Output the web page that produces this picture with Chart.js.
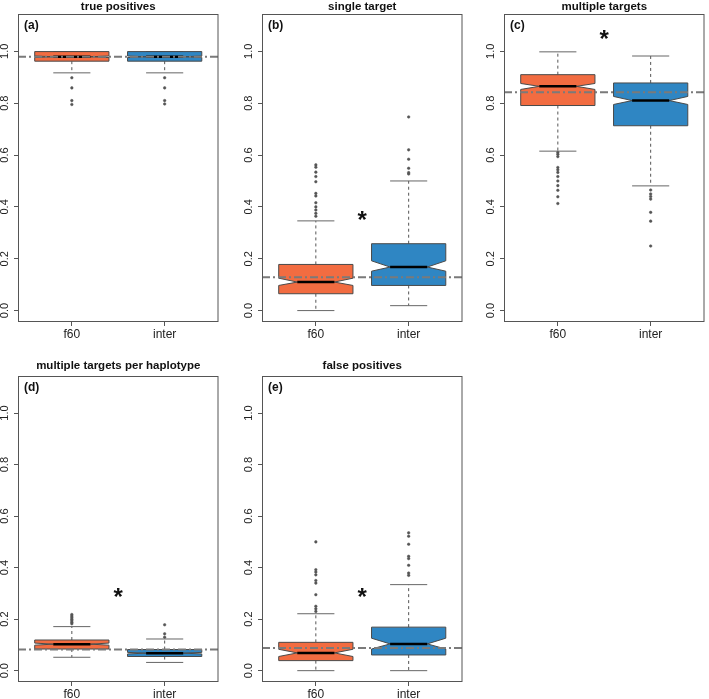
<!DOCTYPE html>
<html>
<head>
<meta charset="utf-8">
<script src="https://cdn.jsdelivr.net/npm/chart.js@4.4.1/dist/chart.umd.min.js"></script>
<style>
  body { margin: 0; background: #fff; }
  #wrap { position: relative; width: 709px; height: 699px; }
  #wrap canvas { position: absolute; }
</style>
</head>
<body>
<div id="wrap">
  <canvas id="pa" width="223" height="340" style="left:0;top:0"></canvas>
  <canvas id="pb" width="223" height="340" style="left:244px;top:0"></canvas>
  <canvas id="pc" width="223" height="340" style="left:486px;top:0"></canvas>
  <canvas id="pd" width="223" height="353" style="left:0;top:346px"></canvas>
  <canvas id="pe" width="223" height="353" style="left:244px;top:346px"></canvas>
</div>
<script>
const titles = ["true positives", "single target", "multiple targets", "multiple targets per haplotype", "false positives"];
const tags = ["(a)", "(b)", "(c)", "(d)", "(e)"];
const groups = ["f60", "inter"];
const yTicks = [0, 0.2, 0.4, 0.6, 0.8, 1.0];

// per panel: [f60, inter]
const q1 = [[0.962, 0.962], [0.065, 0.097], [0.791, 0.713], [0.084, 0.055], [0.039, 0.061]];
const medians = [[0.979, 0.979], [0.110, 0.168], [0.865, 0.810], [0.103, 0.068], [0.069, 0.104]];
const q3 = [[0.999, 0.999], [0.178, 0.258], [0.910, 0.878], [0.119, 0.082], [0.110, 0.169]];
const notchLo = [[0.976, 0.976], [0.097, 0.152], [0.853, 0.795], [0.099, 0.065], [0.055, 0.084]];
const notchHi = [[0.982, 0.982], [0.125, 0.192], [0.876, 0.826], [0.107, 0.071], [0.083, 0.126]];
const whiskLo = [[0.917, 0.917], [0.0, 0.019], [0.615, 0.481], [0.052, 0.032], [0.0, 0.0]];
const whiskHi = [[0.999, 0.999], [0.346, 0.500], [0.998, 0.982], [0.171, 0.123], [0.221, 0.334]];
const outF60 = [
  [0.898, 0.859, 0.810, 0.795],
  [0.562, 0.553, 0.534, 0.517, 0.497, 0.452, 0.442, 0.416, 0.400, 0.388, 0.375, 0.364],
  [0.610, 0.603, 0.594, 0.552, 0.543, 0.533, 0.517, 0.500, 0.482, 0.464, 0.439, 0.413],
  [0.218, 0.212, 0.206, 0.200, 0.194, 0.188, 0.182],
  [0.500, 0.392, 0.383, 0.372, 0.350, 0.340, 0.295, 0.250, 0.240, 0.230]
];
const outInter = [
  [0.898, 0.859, 0.810, 0.797],
  [0.747, 0.620, 0.584, 0.549, 0.532, 0.527],
  [0.465, 0.450, 0.440, 0.430, 0.379, 0.345, 0.249],
  [0.178, 0.143, 0.130],
  [0.535, 0.522, 0.491, 0.444, 0.435, 0.409, 0.379, 0.370]
];
const refLine = [0.979, 0.129, 0.842, 0.082, 0.088];
const starX = [null, 1.5, 1.5, 1.5, 1.5];
const starY = [null, 0.368, 1.066, 0.304, 0.304];

const colors = ["#F26C41", "#2F86C3"];
const BOX_W = 0.8;
const FONT = "'Liberation Sans', Arial, Helvetica, sans-serif";

Chart.defaults.font.family = FONT;
Chart.defaults.color = "#222";

const boxPlugin = {
  id: "boxes",
  beforeDatasetsDraw(chart) {
    const k = chart.options.plugins.boxes.panel;
    const xs = chart.scales.x, ys = chart.scales.y;
    const ctx = chart.ctx;
    const a = chart.chartArea;
    ctx.save();
    ctx.beginPath();
    ctx.rect(a.left, a.top, a.right - a.left, a.bottom - a.top);
    ctx.clip();
    groups.forEach((g, i) => {
      const c = xs.getPixelForValue(i + 1);
      const hw = xs.getPixelForValue(i + 1 + BOX_W / 2) - c;
      const Y = v => ys.getPixelForValue(v);
      // whiskers
      ctx.strokeStyle = "#555";
      ctx.lineWidth = 1;
      ctx.setLineDash([3, 3]);
      ctx.beginPath();
      ctx.moveTo(c, Y(q3[k][i])); ctx.lineTo(c, Y(whiskHi[k][i]));
      ctx.moveTo(c, Y(q1[k][i])); ctx.lineTo(c, Y(whiskLo[k][i]));
      ctx.stroke();
      ctx.setLineDash([]);
      ctx.strokeStyle = "#666";
      ctx.beginPath();
      ctx.moveTo(c - hw / 2, Y(whiskHi[k][i])); ctx.lineTo(c + hw / 2, Y(whiskHi[k][i]));
      ctx.moveTo(c - hw / 2, Y(whiskLo[k][i])); ctx.lineTo(c + hw / 2, Y(whiskLo[k][i]));
      ctx.stroke();
      // notched box
      ctx.beginPath();
      ctx.moveTo(c - hw, Y(q1[k][i]));
      ctx.lineTo(c - hw, Y(notchLo[k][i]));
      ctx.lineTo(c - hw / 2, Y(medians[k][i]));
      ctx.lineTo(c - hw, Y(notchHi[k][i]));
      ctx.lineTo(c - hw, Y(q3[k][i]));
      ctx.lineTo(c + hw, Y(q3[k][i]));
      ctx.lineTo(c + hw, Y(notchHi[k][i]));
      ctx.lineTo(c + hw / 2, Y(medians[k][i]));
      ctx.lineTo(c + hw, Y(notchLo[k][i]));
      ctx.lineTo(c + hw, Y(q1[k][i]));
      ctx.closePath();
      ctx.fillStyle = colors[i];
      ctx.fill();
      ctx.strokeStyle = "#4a4a4a";
      ctx.lineWidth = 1;
      ctx.stroke();
      // median
      ctx.strokeStyle = "#000";
      ctx.lineWidth = 2.5;
      ctx.beginPath();
      ctx.moveTo(c - hw / 2, Y(medians[k][i]));
      ctx.lineTo(c + hw / 2, Y(medians[k][i]));
      ctx.stroke();
    });
    ctx.restore();
  },
  afterDraw(chart) {
    const k = chart.options.plugins.boxes.panel;
    const a = chart.chartArea;
    const ctx = chart.ctx;
    ctx.save();
    ctx.strokeStyle = "#555";
    ctx.lineWidth = 1;
    ctx.strokeRect(a.left + 0.5, a.top + 0.5, a.right - a.left - 1, a.bottom - a.top - 1);
    ctx.fillStyle = "#111";
    ctx.font = "bold 11.5px " + FONT;
    ctx.textAlign = "center";
    ctx.textBaseline = "middle";
    ctx.fillText(titles[k], (a.left + a.right) / 2, a.top - (k < 3 ? 7 : 10));
    ctx.font = "bold 12px " + FONT;
    ctx.textAlign = "left";
    ctx.fillText(tags[k], a.left + 6, a.top + 12);
    if (starY[k] !== null) {
      const px = chart.scales.x.getPixelForValue(starX[k]);
      const py = chart.scales.y.getPixelForValue(starY[k]);
      ctx.font = "bold 24px " + FONT;
      ctx.textAlign = "center";
      ctx.textBaseline = "alphabetic";
      ctx.fillText("*", px, py + 13);
    }
    ctx.restore();
  }
};

function makePanel(id, k) {
  const pts = [];
  outF60[k].forEach(v => pts.push({ x: 1, y: v }));
  outInter[k].forEach(v => pts.push({ x: 2, y: v }));
  new Chart(document.getElementById(id), {
    type: "scatter",
    data: {
      datasets: [
        {
          type: "line",
          data: [{ x: 0.42, y: refLine[k] }, { x: 2.58, y: refLine[k] }],
          borderColor: "#7a7a7a",
          borderWidth: 2,
          borderDash: [8, 3, 2, 3],
          pointRadius: 0
        },
        {
          data: pts,
          pointRadius: 1.3,
          pointBackgroundColor: "#555",
          pointBorderColor: "#555",
          pointBorderWidth: 0.5
        }
      ]
    },
    options: {
      responsive: false,
      animation: false,
      events: [],
      layout: { padding: { top: k < 3 ? 14 : 30, right: 3, left: 0, bottom: 0 } },
      plugins: { legend: { display: false }, tooltip: { enabled: false }, boxes: { panel: k } },
      scales: {
        x: {
          type: "linear",
          min: 0.42,
          max: 2.58,
          afterFit: s => { s.height = k < 3 ? 18 : 17; },
          afterBuildTicks: s => { s.ticks = groups.map((g, i) => ({ value: i + 1 })); },
          ticks: { callback: v => groups[v - 1], font: { size: 12 }, padding: 1, maxRotation: 0, color: "#222" },
          grid: { drawOnChartArea: false, tickLength: 4, color: "#555" },
          border: { display: false }
        },
        y: {
          min: -0.044,
          max: 1.144,
          afterFit: s => { s.width = 18; },
          afterBuildTicks: s => { s.ticks = yTicks.map(v => ({ value: v })); },
          ticks: { callback: v => v.toFixed(1), font: { size: 11 }, padding: 1, minRotation: 90, maxRotation: 90, crossAlign: "center", color: "#222" },
          grid: { drawOnChartArea: false, tickLength: 4, color: "#555" },
          border: { display: false }
        }
      }
    },
    plugins: [boxPlugin]
  });
}

makePanel("pa", 0);
makePanel("pb", 1);
makePanel("pc", 2);
makePanel("pd", 3);
makePanel("pe", 4);
</script>
</body>
</html>
